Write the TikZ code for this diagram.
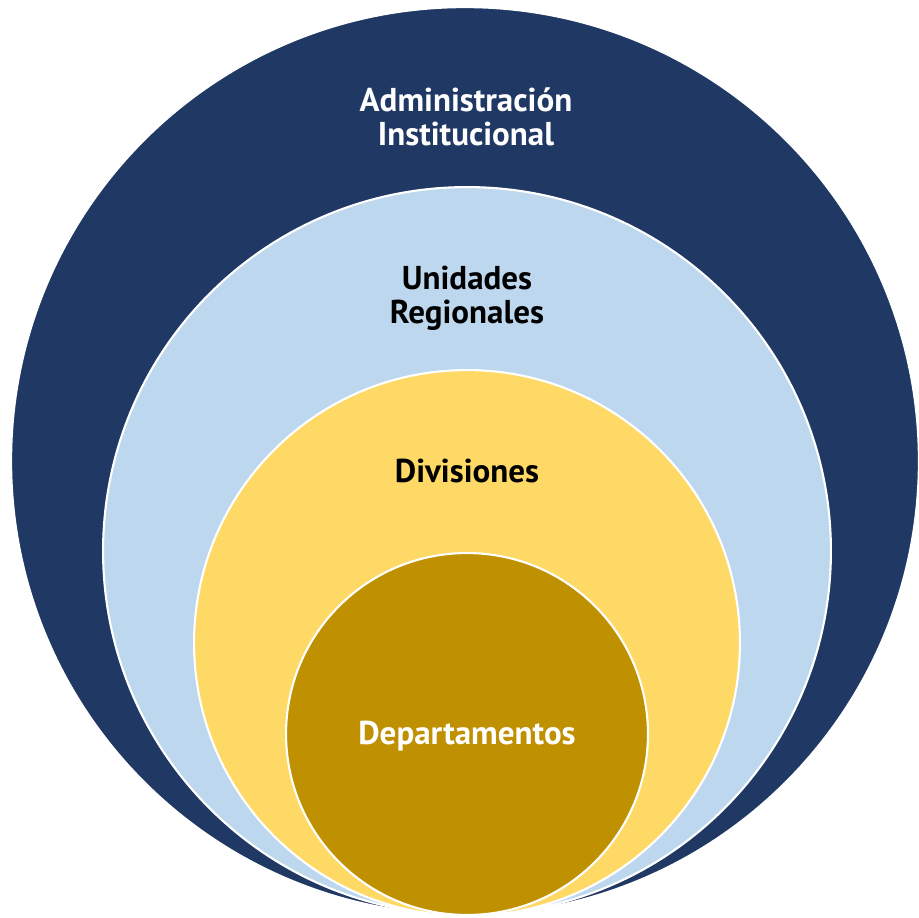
\documentclass[tikz,border=0pt]{standalone}
\usepackage{fontspec}
\setmainfont{PT Sans}
\definecolor{navy}{HTML}{203864}
\definecolor{lblue}{HTML}{BDD7EE}
\definecolor{lyellow}{HTML}{FFD966}
\definecolor{gold}{HTML}{BF9000}
\begin{document}
\begin{tikzpicture}[x=0.02cm,y=-0.02cm,
  ring/.style={circle,draw=white,line width=1.2pt,inner sep=0pt},
  lbl/.style={font=\fontsize{18.8}{19.3}\selectfont\bfseries,align=center,anchor=base,inner sep=0pt}]
\useasboundingbox (0,0) rectangle (919,917);
\node[ring,fill=navy,minimum size=18.16cm] (c1) at (465,461) {};
\node[ring,fill=lblue,minimum size=14.56cm] (c2) at (467,551) {};
\node[ring,fill=lyellow,minimum size=10.92cm] (c3) at (467,643) {};
\node[ring,fill=gold,minimum size=7.24cm] (c4) at (467,734) {};
\node[lbl,text=white] (t1) at (466,145) {Administración\\Institucional};
\node[lbl,text=black] (t2) at (467,323) {Unidades\\Regionales};
\node[lbl,text=black] (t3) at (467,482) {Divisiones};
\node[lbl,text=white] (t4) at (467,744) {Departamentos};
\end{tikzpicture}
\end{document}
